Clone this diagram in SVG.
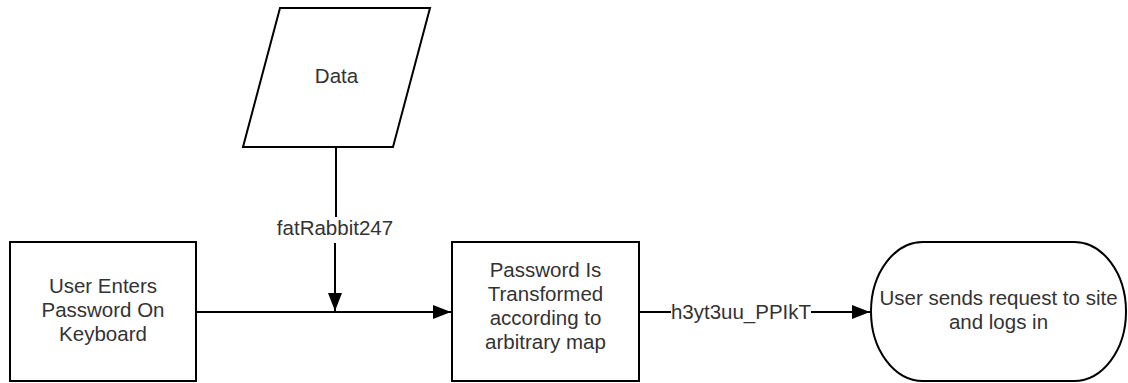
<svg xmlns="http://www.w3.org/2000/svg" width="1128" height="383" viewBox="0 0 1128 383">
<style>
.shape{fill:#fff;stroke:#000;stroke-width:2}
.conn{fill:none;stroke:#000;stroke-width:2}
text{font-family:"Liberation Sans",Arial,sans-serif;font-size:20.5px;fill:#333;text-anchor:middle}
</style>
<defs>
<marker id="arr" markerUnits="userSpaceOnUse" markerWidth="20" markerHeight="16" refX="18" refY="7" orient="auto">
<path d="M0,0 L18,7 L0,14 Z" fill="#000"/>
</marker>
</defs>
<rect width="1128" height="383" fill="#fff"/>
<g id="connectors">
<line class="conn" x1="336" y1="147" x2="336" y2="217"/>
<line class="conn" x1="335" y1="243" x2="335" y2="311" marker-end="url(#arr)"/>
<text x="335" y="235">fatRabbit247</text>
<line class="conn" x1="197" y1="312" x2="451" y2="312" marker-end="url(#arr)"/>
<line class="conn" x1="640" y1="312" x2="671" y2="312"/>
<line class="conn" x1="811" y1="312" x2="870" y2="312" marker-end="url(#arr)"/>
<text x="741" y="319">h3yt3uu_PPIkT</text>
</g>
<g id="data">
<polygon class="shape" points="280,8 430,8 393,147 243,147"/>
<text x="336.5" y="83">Data</text>
</g>
<g id="enter">
<rect class="shape" x="10" y="242" width="186" height="139"/>
<text x="103" y="293">User Enters</text>
<text x="103" y="317">Password On</text>
<text x="103" y="341">Keyboard</text>
</g>
<g id="transform">
<rect class="shape" x="452" y="242" width="187" height="139"/>
<text x="545.5" y="277">Password Is</text>
<text x="545.5" y="301">Transformed</text>
<text x="545.5" y="325">according to</text>
<text x="545.5" y="349">arbitrary map</text>
</g>
<g id="login">
<rect class="shape" x="871" y="242" width="255" height="139" rx="52" ry="69.5"/>
<text x="998.5" y="305">User sends request to site</text>
<text x="998.5" y="329">and logs in</text>
</g>
</svg>
